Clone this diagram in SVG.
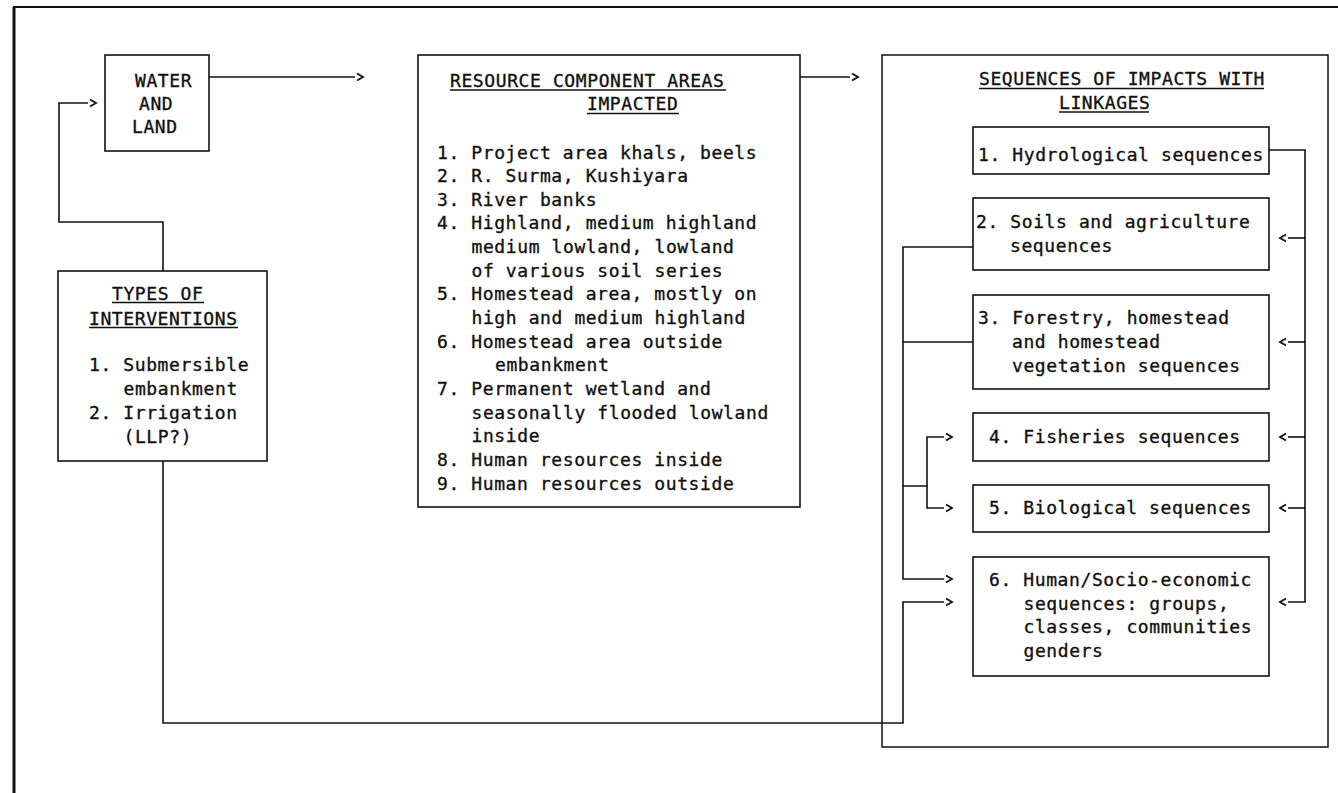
<svg xmlns="http://www.w3.org/2000/svg" width="1338" height="793" viewBox="0 0 1338 793">
<style>
text{font-family:"DejaVu Sans Mono","Liberation Mono",monospace;font-size:18px;letter-spacing:0.6px;fill:#111;stroke:#111;stroke-width:0.35}
.box{fill:#fff;stroke:#111;stroke-width:1.6}
.outer{fill:none;stroke:#111;stroke-width:1.5}
.ul{stroke:#111;stroke-width:1.6}
.con{fill:none;stroke:#111;stroke-width:1.6}
.frame{fill:none;stroke:#111}
</style>
<defs>
<marker id="chev" markerUnits="userSpaceOnUse" markerWidth="14" markerHeight="12" viewBox="-2 -6 14 12" refX="0" refY="0" orient="auto" overflow="visible">
<path d="M2,-3.5 L8,0 L2,3.5" fill="none" stroke="#111" stroke-width="1.8"/>
</marker>
</defs>
<rect width="1338" height="793" fill="#fff"/>
<g id="frame">
<path class="frame" d="M13,7 H1338" stroke-width="2"/>
<path class="frame" d="M14,7 V793" stroke-width="3"/>
</g>
<g id="water-land">
<rect class="box" x="105" y="55" width="104" height="96"/>
<text x="135" y="86.5">WATER</text>
<text x="139" y="109.5">AND</text>
<text x="132" y="132.5">LAND</text>
</g>
<g id="types-of-interventions">
<rect class="box" x="58" y="271" width="209" height="190"/>
<text x="112" y="299.5">TYPES OF</text>
<line class="ul" x1="112" y1="302.5" x2="204" y2="302.5"/>
<text x="89" y="324.5">INTERVENTIONS</text>
<line class="ul" x1="89" y1="327.5" x2="238" y2="327.5"/>
<text x="89" y="371">1. Submersible</text>
<text x="123.5" y="395">embankment</text>
<text x="89" y="419">2. Irrigation</text>
<text x="123.5" y="443">(LLP?)</text>
</g>
<g id="resource-areas">
<rect class="box" x="418" y="55" width="382" height="452"/>
<text x="450" y="86.5">RESOURCE COMPONENT AREAS</text>
<line class="ul" x1="450" y1="90" x2="726" y2="90"/>
<text x="587" y="110">IMPACTED</text>
<line class="ul" x1="587" y1="113.5" x2="679" y2="113.5"/>
<text x="437" y="158.5">1. Project area khals, beels</text>
<text x="437" y="182.1">2. R. Surma, Kushiyara</text>
<text x="437" y="205.8">3. River banks</text>
<text x="437" y="229.4">4. Highland, medium highland</text>
<text x="471.5" y="253.1">medium lowland, lowland</text>
<text x="471.5" y="276.7">of various soil series</text>
<text x="437" y="300.3">5. Homestead area, mostly on</text>
<text x="471.5" y="324">high and medium highland</text>
<text x="437" y="347.6">6. Homestead area outside</text>
<text x="495" y="371.3">embankment</text>
<text x="437" y="394.9">7. Permanent wetland and</text>
<text x="471.5" y="418.5">seasonally flooded lowland</text>
<text x="471.5" y="442.2">inside</text>
<text x="437" y="465.8">8. Human resources inside</text>
<text x="437" y="489.5">9. Human resources outside</text>
</g>
<g id="sequences">
<rect class="outer" x="882" y="55" width="446" height="692"/>
<text x="979" y="85">SEQUENCES OF IMPACTS WITH</text>
<line class="ul" x1="979" y1="88.5" x2="1264" y2="88.5"/>
<text x="1059" y="109">LINKAGES</text>
<line class="ul" x1="1059" y1="112" x2="1149" y2="112"/>
</g>
<g id="seq-1">
<rect class="box" x="973" y="127" width="296" height="47"/>
<text x="978" y="161">1. Hydrological sequences</text>
</g>
<g id="seq-2">
<rect class="box" x="973" y="198" width="296" height="72"/>
<text x="976" y="228">2. Soils and agriculture</text>
<text x="1010" y="251.5">sequences</text>
</g>
<g id="seq-3">
<rect class="box" x="973" y="295" width="296" height="94"/>
<text x="978" y="324">3. Forestry, homestead</text>
<text x="1012" y="348">and homestead</text>
<text x="1012" y="371.5">vegetation sequences</text>
</g>
<g id="seq-4">
<rect class="box" x="973" y="413" width="296" height="48"/>
<text x="989" y="443">4. Fisheries sequences</text>
</g>
<g id="seq-5">
<rect class="box" x="973" y="485" width="296" height="47"/>
<text x="989" y="514">5. Biological sequences</text>
</g>
<g id="seq-6">
<rect class="box" x="973" y="557" width="296" height="119"/>
<text x="989" y="586">6. Human/Socio-economic</text>
<text x="1023.5" y="609.5">sequences: groups,</text>
<text x="1023.5" y="633">classes, communities</text>
<text x="1023.5" y="656.5">genders</text>
</g>
<g id="connectors">
<path class="con" d="M209,77 H355" marker-end="url(#chev)"/>
<path class="con" d="M800,77 H850" marker-end="url(#chev)"/>
<path class="con" d="M163,271 V222 H59 V103 H88" marker-end="url(#chev)"/>
<path class="con" d="M163,461 V723 H903 V602 H944" marker-end="url(#chev)"/>
<path class="con" d="M1269,150 H1305 V602 H1288" marker-end="url(#chev)"/>
<path class="con" d="M1305,238 H1288" marker-end="url(#chev)"/>
<path class="con" d="M1305,342 H1288" marker-end="url(#chev)"/>
<path class="con" d="M1305,437 H1288" marker-end="url(#chev)"/>
<path class="con" d="M1305,508 H1288" marker-end="url(#chev)"/>
<path class="con" d="M973,247 H903 V579 H944" marker-end="url(#chev)"/>
<path class="con" d="M973,342 H903"/>
<path class="con" d="M903,486 H927 V437 H944" marker-end="url(#chev)"/>
<path class="con" d="M927,486 V508 H944" marker-end="url(#chev)"/>
</g>
</svg>
